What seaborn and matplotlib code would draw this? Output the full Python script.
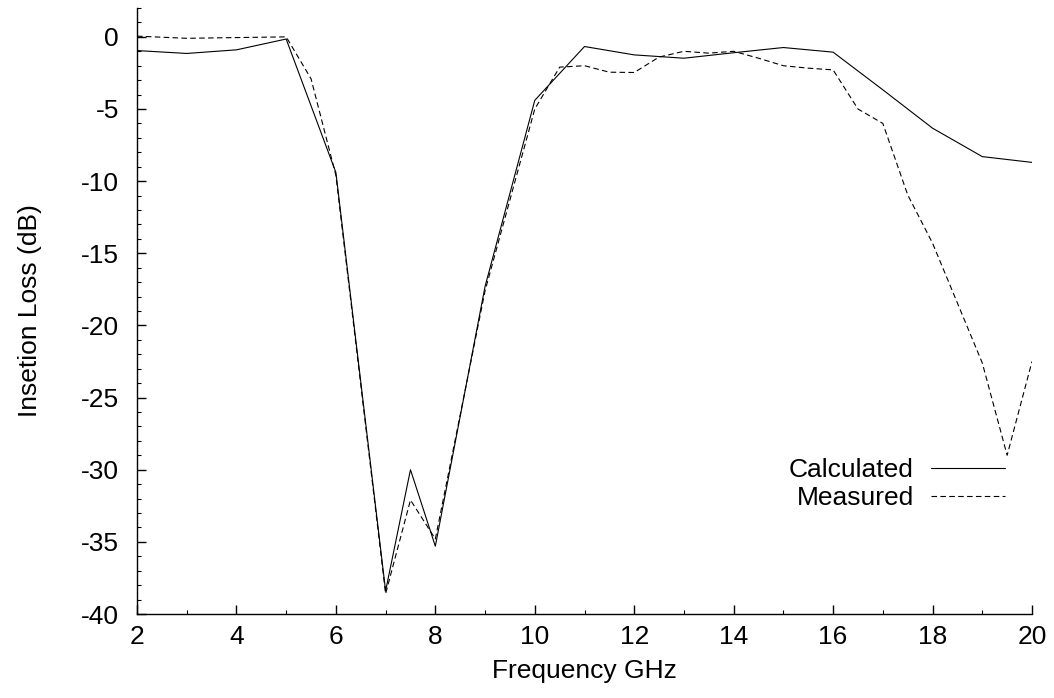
import matplotlib
matplotlib.use("Agg")
import matplotlib.pyplot as plt
from matplotlib.ticker import MultipleLocator
import pandas as pd
import seaborn as sns

# Calculated insertion loss (dB) vs frequency (GHz)
calc_freq = [2, 3, 4, 5, 6, 7, 7.5, 8, 9, 10, 11, 12, 13, 14, 15, 16, 17, 18, 19, 20]
calc_loss = [-0.95, -1.15, -0.9, -0.15, -9.4, -38.4, -30.0, -35.3, -17.3, -4.4,
             -0.67, -1.25, -1.48, -1.1, -0.74, -1.06, -3.67, -6.33, -8.3, -8.7]

# Measured insertion loss (dB) vs frequency (GHz)
meas_freq = [2, 3, 4, 5, 5.5, 6, 7, 7.5, 8, 9, 10, 10.5, 11, 11.5, 12, 12.5, 13,
             13.5, 14, 14.5, 15, 15.5, 16, 16.5, 17, 17.5, 18, 19, 19.5, 20]
meas_loss = [0.05, -0.1, -0.05, 0.0, -2.9, -9.6, -38.6, -32.1, -34.8, -17.6, -5.0,
             -2.1, -2.0, -2.45, -2.47, -1.4, -1.0, -1.13, -1.0, -1.48, -2.0, -2.17,
             -2.29, -5.0, -6.0, -10.95, -14.3, -22.6, -29.0, -22.5]

series_names = ["Calculated", "Measured"]

calc_df = pd.DataFrame({"freq": calc_freq, "loss": calc_loss})
meas_df = pd.DataFrame({"freq": meas_freq, "loss": meas_loss})

sns.set_style("ticks")
plt.rcParams["font.family"] = ["Liberation Sans", "DejaVu Sans"]
plt.rcParams["axes.unicode_minus"] = False
plt.rcParams["text.color"] = "black"
plt.rcParams["axes.labelcolor"] = "black"
plt.rcParams["xtick.color"] = "black"
plt.rcParams["ytick.color"] = "black"

FS = 19

fig = plt.figure(figsize=(10.54, 6.98), dpi=100)
ax = fig.add_axes([137 / 1054, 1 - 614 / 698, (1032 - 137) / 1054, (614 - 8) / 698])

sns.lineplot(data=calc_df, x="freq", y="loss", ax=ax, color="black",
             linewidth=0.8, label=series_names[0], sort=False)
sns.lineplot(data=meas_df, x="freq", y="loss", ax=ax, color="black",
             linewidth=0.8, linestyle=(0, (5, 3)), label=series_names[1], sort=False)

ax.set_xlim(2, 20)
ax.set_ylim(-40, 2)
ax.xaxis.set_major_locator(MultipleLocator(2))
ax.xaxis.set_minor_locator(MultipleLocator(1))
ax.yaxis.set_minor_locator(MultipleLocator(1))
ax.set_yticks(range(-40, 1, 5))

for side in ("top", "right"):
    ax.spines[side].set_visible(False)
for side in ("left", "bottom"):
    ax.spines[side].set_linewidth(1.0)
    ax.spines[side].set_color("black")

ax.tick_params(which="major", direction="in", length=6.5, width=1.0,
               labelsize=FS, colors="black", labelcolor="black")
ax.tick_params(which="minor", direction="in", length=3, width=0.8, colors="black")
ax.tick_params(axis="x", which="major", pad=8)
ax.tick_params(axis="y", which="major", pad=13)

ax.set_xlabel("Frequency GHz", fontsize=FS, labelpad=7, color="black")
ax.set_ylabel("Insetion Loss (dB)", fontsize=FS, labelpad=28, color="black")

leg = ax.legend(loc="upper right", bbox_to_anchor=(1005 / 1054, 1 - 458 / 698),
                bbox_transform=fig.transFigure, frameon=False, markerfirst=False,
                fontsize=FS, handlelength=2.8, handletextpad=0.65,
                labelspacing=0.15, borderpad=0, borderaxespad=0)
for txt in leg.get_texts():
    txt.set_color("black")

fig.savefig("out.png", dpi=100, facecolor="white")
